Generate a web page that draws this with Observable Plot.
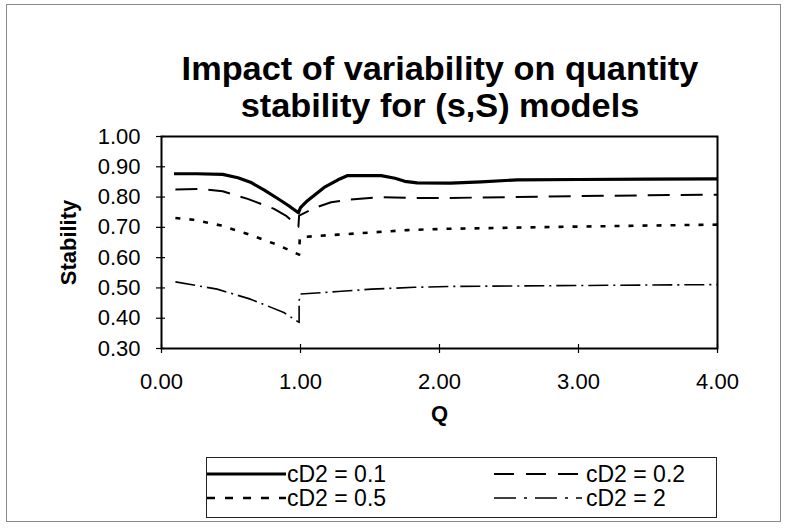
<!DOCTYPE html>
<html>
<head>
<meta charset="utf-8">
<script src="https://cdn.jsdelivr.net/npm/d3@7"></script>
<script src="https://cdn.jsdelivr.net/npm/@observablehq/plot@0.6"></script>
<style>
  html, body { margin: 0; padding: 0; background: #fff; }
  body { width: 787px; height: 530px; position: relative; overflow: hidden; font-family: "Liberation Sans", Arial, sans-serif; color: #000; }
  #frame { position: absolute; left: 6px; top: 4px; width: 775px; height: 518px; border: 1px solid #8a8a8a; box-sizing: border-box; pointer-events: none; }
  #title { position: absolute; left: 0; top: 50px; width: 880px; text-align: center; font-weight: bold; font-size: 33px; line-height: 37px; transform: scaleX(1.04); transform-origin: 440px 0; }
  #chart { position: absolute; left: 0; top: 0; }
  #legend { position: absolute; left: 206px; top: 457px; width: 511px; height: 61px; border: 1px solid #222; box-sizing: border-box; }
  .item { position: absolute; height: 24px; font-size: 23px; line-height: 24px; white-space: nowrap; }
  .item svg { position: absolute; left: 0; top: 0; }
  .item span { position: absolute; top: 0; }
</style>
</head>
<body>
<div id="frame"></div>
<div id="chart"></div>
<div id="title">Impact of variability on quantity<br>stability for (s,S) models</div>
<div id="legend"></div>
<script>
// ---- data ----
const seriesNames = ["cD2 = 0.1", "cD2 = 0.2", "cD2 = 0.5", "cD2 = 2"];

const q01 = [0.09, 0.25, 0.44, 0.55, 0.64, 0.74, 0.83, 0.91, 0.985, 1.00, 1.05, 1.17, 1.27, 1.34, 1.58, 1.68, 1.75, 1.84, 2.08, 2.30, 2.56, 3.00, 3.50, 4.00];
const s01 = [0.877, 0.877, 0.875, 0.864, 0.849, 0.823, 0.797, 0.773, 0.748, 0.765, 0.788, 0.832, 0.857, 0.871, 0.871, 0.862, 0.852, 0.847, 0.846, 0.850, 0.857, 0.858, 0.859, 0.860];

const q02 = [0.10, 0.28, 0.44, 0.62, 0.81, 0.90, 0.985, 0.99, 1.10, 1.22, 1.36, 1.58, 1.82, 2.06, 2.50, 3.00, 3.50, 4.00];
const s02 = [0.825, 0.827, 0.819, 0.794, 0.761, 0.737, 0.702, 0.739, 0.764, 0.783, 0.792, 0.800, 0.797, 0.797, 0.800, 0.803, 0.806, 0.808];

const q05 = [0.10, 0.23, 0.43, 0.62, 0.83, 0.99, 0.995, 1.10, 1.27, 1.77, 2.03, 2.92, 3.50, 4.00];
const s05 = [0.731, 0.725, 0.706, 0.678, 0.643, 0.610, 0.667, 0.671, 0.676, 0.691, 0.695, 0.702, 0.706, 0.709];

const q2 = [0.10, 0.40, 0.64, 0.88, 0.99, 0.99, 1.00, 1.27, 1.51, 1.82, 2.08, 3.00, 4.00];
const s2 = [0.520, 0.496, 0.463, 0.419, 0.386, 0.458, 0.480, 0.488, 0.496, 0.502, 0.505, 0.508, 0.511];

const xTicks = [0, 1, 2, 3, 4];
const yTicks = [0.3, 0.4, 0.5, 0.6, 0.7, 0.8, 0.9, 1.0];

// ---- styles per series ----
const styles = [
  {strokeWidth: 3.2, dash: null, legendDash: null},
  {strokeWidth: 2.0, dash: "22,11", legendDash: "20,12"},
  {strokeWidth: 2.6, dash: "5,9", legendDash: "8,10"},
  {strokeWidth: 1.6, dash: "20,5,2,5", legendDash: "22,8,3,8"}
];

const qs = [q01, q02, q05, q2];
const ss = [s01, s02, s05, s2];
const rows = qs.map((q, i) => q.map((x, j) => ({series: seriesNames[i], q: x, s: ss[i][j]})));

const fmt = d3.format(".2f");

const plot = Plot.plot({
  width: 787,
  height: 440,
  marginLeft: 161,
  marginRight: 70,
  marginTop: 136,
  marginBottom: 92,
  style: {fontFamily: "Liberation Sans, Arial, sans-serif", color: "#000", background: "transparent"},
  x: {domain: [0, 4]},
  y: {domain: [0.3, 1.0]},
  marks: [
    Plot.frame({stroke: "#000", strokeWidth: 2}),
    Plot.axisX({ticks: xTicks, tickSize: 5, tickPadding: 20, tickFormat: fmt, fontSize: 22, label: null, strokeWidth: 1.2}),
    Plot.axisX({ticks: xTicks, tickSize: 4, dy: -4, tickFormat: () => "", label: null, strokeWidth: 1.2}),
    Plot.axisY({ticks: yTicks, tickSize: 5, tickPadding: 16, tickFormat: fmt, fontSize: 22, label: null, strokeWidth: 1.2}),
    Plot.axisY({ticks: yTicks, tickSize: 4, dx: 4, tickFormat: () => "", label: null, strokeWidth: 1.2}),
    ...rows.map((data, i) => Plot.line(data, {
      x: "q", y: "s", stroke: "#000",
      strokeWidth: styles[i].strokeWidth,
      strokeDasharray: styles[i].dash || undefined,
      strokeLinejoin: "round", strokeLinecap: "butt"
    })),
    Plot.text(["Q"], {frameAnchor: "bottom", dy: 72, fontWeight: "bold", fontSize: 22, fill: "#000"}),
    Plot.text(["Stability"], {frameAnchor: "left", textAnchor: "middle", dx: -93, rotate: -90, fontWeight: "bold", fontSize: 22, fill: "#000"})
  ]
});
document.getElementById("chart").appendChild(plot);

// ---- legend ----
const legend = document.getElementById("legend");
const pos = [
  {left: 0, top: 4, lineW: 79, textX: 80},
  {left: 287, top: 4, lineW: 88, textX: 92},
  {left: 0, top: 28, lineW: 79, textX: 80},
  {left: 287, top: 28, lineW: 88, textX: 92}
];
seriesNames.forEach((name, i) => {
  const p = pos[i];
  const item = document.createElement("div");
  item.className = "item";
  item.style.left = p.left + "px";
  item.style.top = p.top + "px";
  item.style.width = "220px";
  const svg = d3.create("svg").attr("width", p.lineW).attr("height", 24);
  svg.append("line")
    .attr("x1", 0).attr("x2", p.lineW).attr("y1", 12).attr("y2", 12)
    .attr("stroke", "#000")
    .attr("stroke-width", styles[i].strokeWidth)
    .attr("stroke-dasharray", styles[i].legendDash);
  item.appendChild(svg.node());
  const span = document.createElement("span");
  span.style.left = p.textX + "px";
  span.textContent = name;
  item.appendChild(span);
  legend.appendChild(item);
});
</script>
</body>
</html>
